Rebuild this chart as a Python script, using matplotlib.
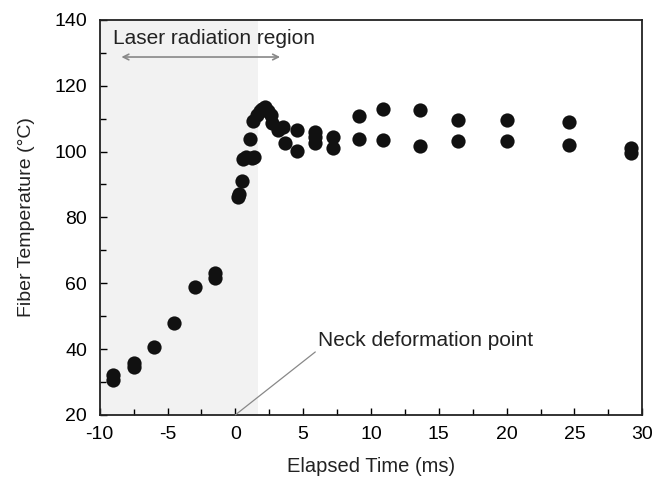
import matplotlib.pyplot as plt
from matplotlib.ticker import MultipleLocator

plt.rcParams['font.family'] = ['Liberation Sans', 'DejaVu Sans']
plt.rcParams['axes.unicode_minus'] = False

# Elapsed time (ms) and fiber temperature (C)
time_ms = [-9.0, -9.0, -7.5, -7.5, -6.0, -4.5, -3.0, -1.5, -1.5,
           0.2, 0.25, 0.5, 0.55, 0.8, 1.2, 1.4, 1.05, 1.3,
           1.6, 1.8, 2.0, 2.2, 2.4, 2.6, 2.7, 3.15, 3.5, 3.65,
           4.55, 4.55, 5.85, 5.85, 5.9, 7.2, 7.2, 9.1, 9.1,
           10.9, 10.9, 13.65, 13.65, 16.4, 16.4, 20.0, 20.0,
           24.6, 24.6, 29.2, 29.2]
temp_c = [30.7, 32.0, 34.6, 35.8, 40.5, 48.0, 58.7, 61.6, 63.2,
          86.3, 87.0, 90.9, 97.7, 98.2, 98.0, 98.3, 103.8, 109.2,
          111.0, 112.3, 113.0, 113.5, 112.4, 111.0, 108.7, 106.6, 107.4, 102.6,
          106.4, 100.2, 106.0, 104.3, 102.6, 104.3, 101.1, 110.7, 103.8,
          113.0, 103.4, 112.7, 101.8, 109.5, 103.1, 109.5, 103.3,
          108.9, 102.1, 99.6, 101.0]

laser_end = 1.65

fig = plt.figure(figsize=(6.56, 4.83), dpi=100)
ax = fig.add_axes([0.152, 0.141, 0.827, 0.818])

ax.axvspan(-10, laser_end, color='#f2f2f2', zorder=0, lw=0)
ax.scatter(time_ms, temp_c, s=105, color='#111111', zorder=3, lw=0)

ax.set_xlim(-10, 30)
ax.set_ylim(20, 140)
ax.set_xticks(range(-10, 31, 5))
ax.set_yticks(range(20, 141, 20))
ax.xaxis.set_minor_locator(MultipleLocator(2.5))
ax.yaxis.set_minor_locator(MultipleLocator(10))
ax.tick_params(which='both', direction='in', width=1, top=False, right=False)
ax.tick_params(which='major', length=5, labelsize=14)
ax.tick_params(which='minor', length=4)
ax.tick_params(axis='x', pad=8)
ax.tick_params(axis='y', pad=9)
for s in ax.spines.values():
    s.set_linewidth(1.3)
    s.set_color('#222222')

ax.set_xlabel('Elapsed Time (ms)', fontsize=14.5, labelpad=10, color='#222222')
ax.set_ylabel('Fiber Temperature (°C)', fontsize=14, labelpad=14, color='#222222')

# laser radiation region label and arrow
ax.text(-9.0, 131.3, 'Laser radiation region', fontsize=15, va='bottom', color='#222222')
ax.annotate('', xy=(-8.4, 128.7), xytext=(3.3, 128.7),
            arrowprops=dict(arrowstyle='<->', color='#888888', lw=1.2,
                            shrinkA=0, shrinkB=0))

# neck deformation point
ax.annotate('Neck deformation point', xy=(0, 20), xytext=(6.1, 41),
            fontsize=15, color='#222222',
            arrowprops=dict(arrowstyle='-', color='#888888', lw=0.9,
                            shrinkA=0, shrinkB=0, relpos=(0, 0)))

fig.savefig('out.png', dpi=100)
